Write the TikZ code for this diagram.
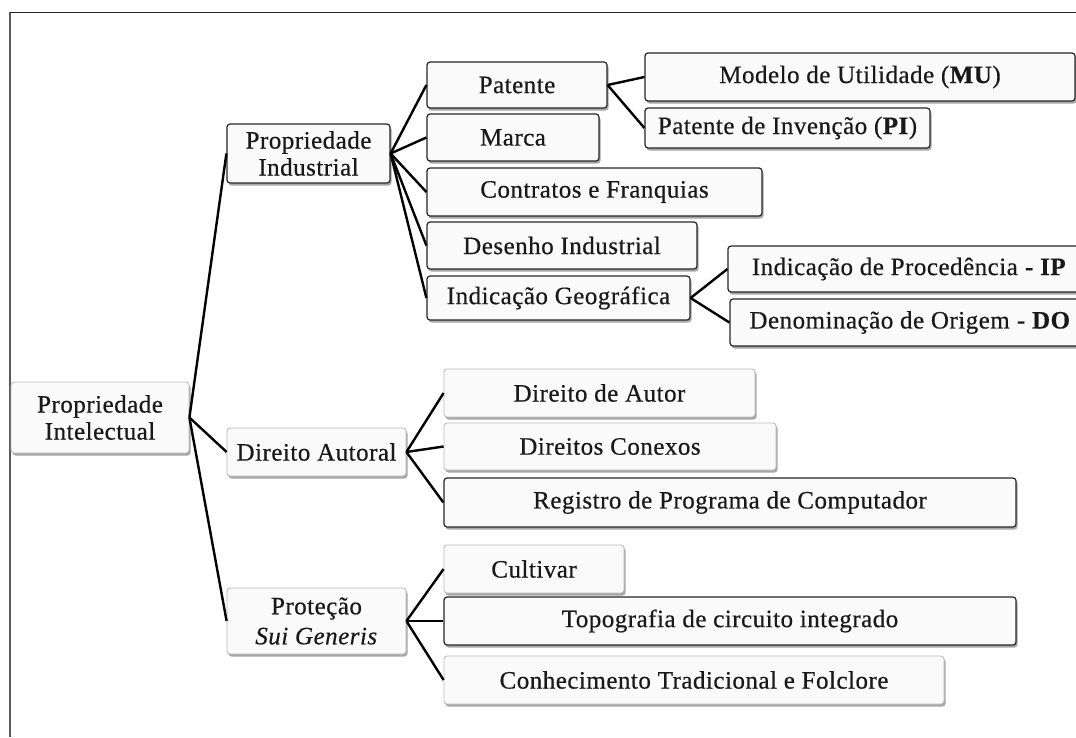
\documentclass[tikz,border=0pt]{standalone}
\usepackage{fontspec}
\setmainfont{Liberation Serif}[FakeBold=0.5, LetterSpace=2]
\usetikzlibrary{shadows}
\tikzset{
  basebox/.style={rectangle, rounded corners=3pt, fill=white!96!gray, inner sep=0pt,
    align=center, font=\fontsize{25}{27}\selectfont, text=black!90,
    drop shadow={shadow xshift=1.5pt, shadow yshift=-2.5pt, fill=black, opacity=0.35}},
  darkbox/.style={basebox, draw=black!85, line width=1.2pt},
  lightbox/.style={basebox, draw=gray!55, line width=0.8pt},
  link/.style={draw=black, line width=2.4pt, line join=round}
}
\begin{document}
\begin{tikzpicture}[x=1pt, y=-1pt]
\clip (0,0) rectangle (1076,737);
\fill[white] (0,0) rectangle (1076,737);
% frame
\draw[gray!70!black, line width=1.5pt] (10,737) -- (10,12);
\draw[black!85, line width=1pt] (10,12) -- (1076,12);

% level 0 and 1
\node[lightbox, minimum width=178pt, minimum height=71pt] (root) at (100,417.5) {Propriedade\\Intelectual};
\node[darkbox, minimum width=163pt, minimum height=59pt] (pind) at (308.5,153.5) {Propriedade\\Industrial};
\node[lightbox, minimum width=179pt, minimum height=48pt] (da) at (316.5,452) {Direito Autoral};
\node[lightbox, minimum width=179pt, minimum height=66pt] (psg) at (316.5,621) {Proteção\\[3pt]\textit{Sui Generis}};

% Propriedade Industrial children
\node[darkbox, minimum width=180pt, minimum height=46pt] (pat) at (517,85) {Patente};
\node[darkbox, minimum width=172pt, minimum height=47pt] (mar) at (513,137.5) {Marca};
\node[darkbox, minimum width=335pt, minimum height=48pt] (con) at (594.5,192) {Contratos e Franquias};
\node[darkbox, minimum width=270pt, minimum height=47pt] (des) at (562,245.5) {Desenho Industrial};
\node[darkbox, minimum width=263pt, minimum height=44pt] (ig) at (558.5,298) {Indicação Geográfica};

\node[darkbox, minimum width=430pt, minimum height=48pt] (mu) at (860,77) {Modelo de Utilidade (\textbf{MU})};
\node[darkbox, minimum width=285pt, minimum height=40pt] (pi) at (787.5,128) {Patente de Invenção (\textbf{PI})};
\node[darkbox, minimum width=362pt, minimum height=46pt] (ip) at (909,269) {Indicação de Procedência \textbf{- IP}};
\node[darkbox, minimum width=360pt, minimum height=47pt] (do) at (910,322.5) {Denominação de Origem \textbf{- DO}};

% Direito Autoral children
\node[lightbox, minimum width=311pt, minimum height=48pt] (dau) at (599.5,393) {Direito de Autor};
\node[lightbox, minimum width=332pt, minimum height=47pt] (dco) at (610,446.5) {Direitos Conexos};
\node[darkbox, minimum width=572pt, minimum height=49pt] (reg) at (730,502.5) {Registro de Programa de Computador};

% Sui Generis children
\node[lightbox, minimum width=180pt, minimum height=48pt] (cul) at (534,569) {Cultivar};
\node[darkbox, minimum width=572pt, minimum height=48pt] (top) at (730,621) {Topografia de circuito integrado};
\node[lightbox, minimum width=500pt, minimum height=48pt] (chc) at (694,680) {Conhecimento Tradicional e Folclore};

% connectors
\foreach \c in {pind, da, psg} \draw[link] (root.east) -- (\c.west);
\foreach \c in {pat, mar, con, des, ig} \draw[link] (pind.east) -- (\c.west);
\foreach \c in {mu, pi} \draw[link] (pat.east) -- (\c.west);
\foreach \c in {ip, do} \draw[link] (ig.east) -- (\c.west);
\foreach \c in {dau, dco, reg} \draw[link] (da.east) -- (\c.west);
\foreach \c in {cul, top, chc} \draw[link] (psg.east) -- (\c.west);
\end{tikzpicture}
\end{document}
